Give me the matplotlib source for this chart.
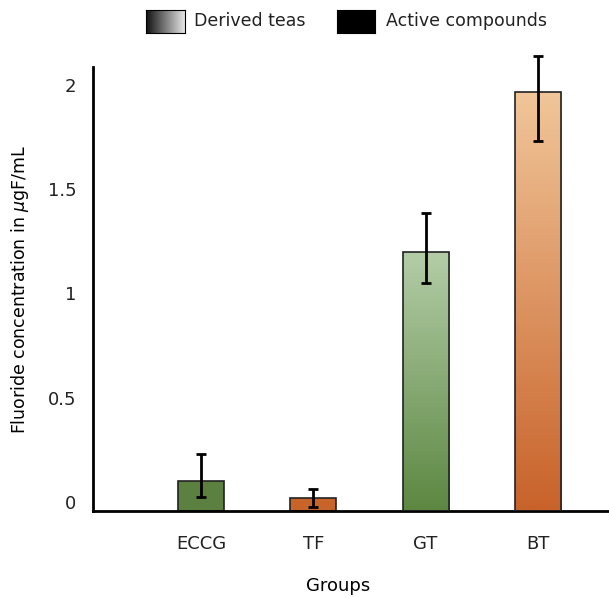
import numpy as np
import matplotlib
matplotlib.use("Agg")
import matplotlib.pyplot as plt
import matplotlib.transforms as mtransforms
from matplotlib.colors import LinearSegmentedColormap, to_rgb

# Data
groups = ["ECCG", "TF", "GT", "BT"]
values = [0.144, 0.062, 1.242, 2.009]
err_low = [0.077, 0.043, 0.149, 0.235]
err_high = [0.129, 0.043, 0.187, 0.172]
# None -> solid colour, otherwise (top, bottom) gradient
solid_colors = ["#5B8040", "#C8642A", None, None]
grad_colors = [None, None, ("#B4CDA8", "#5C8741"), ("#F1C699", "#C8622A")]
yticks = [0, 0.5, 1, 1.5, 2]
ytick_labels = ["0", "0.5", "1", "1.5", "2"]

plt.rcParams['font.family'] = ['DejaVu Sans']
plt.rcParams['font.size'] = 12.5
plt.rcParams['text.color'] = '#222222'

fig = plt.figure(figsize=(6.09, 5.98), dpi=100)
ax = fig.add_axes([93 / 609, 87 / 598, 516 / 609, 444 / 598])

x = np.arange(len(groups))
width = 0.41

for i, g in enumerate(groups):
    if solid_colors[i] is not None:
        ax.bar(x[i], values[i], width, color=solid_colors[i], edgecolor="#222222", linewidth=1.2, zorder=2)
    else:
        top, bottom = grad_colors[i]
        cmap = LinearSegmentedColormap.from_list("g%d" % i, [to_rgb(bottom), to_rgb(top)])
        bar = ax.bar(x[i], values[i], width, color="none", edgecolor="#222222", linewidth=1.2, zorder=3)[0]
        grad = np.linspace(0, 1, 256).reshape(-1, 1)
        im = ax.imshow(grad, cmap=cmap, origin="lower", aspect="auto",
                       extent=[x[i] - width / 2, x[i] + width / 2, 0, values[i]], zorder=2)
        im.set_clip_path(bar)

eb = ax.errorbar(x, values, yerr=[err_low, err_high], fmt="none", ecolor="black",
                 elinewidth=2, capsize=3.5, capthick=2, zorder=4)
for art in eb.lines[1] + eb.lines[2]:
    art.set_clip_on(False)

ax.set_xlim(-0.962, 3.633)
ax.set_ylim(0, 2.128)
ax.set_xticks(x)
ax.set_xticklabels(groups)
ax.set_yticks(yticks)
ax.set_yticklabels(ytick_labels)
ax.tick_params(length=0, labelsize=13, labelcolor="#222222")
ax.tick_params(axis="x", pad=17)
ax.tick_params(axis="y", pad=12)
# labels in the original sit a bit above their ticks
offset = mtransforms.ScaledTranslation(0, 9 / 100, fig.dpi_scale_trans)
for lab in ax.get_yticklabels():
    lab.set_transform(lab.get_transform() + offset)

for s in ["top", "right"]:
    ax.spines[s].set_visible(False)
ax.spines["left"].set_linewidth(2)
ax.spines["bottom"].set_linewidth(2)

ax.set_xlabel("Groups", fontsize=13)
ax.xaxis.set_label_coords((338 - 93) / 516, -0.148)
ax.set_ylabel("Fluoride concentration in $\\mu$gF/mL", fontsize=12.5)
ax.yaxis.set_label_coords(-(93 - 31) / 516, 0.5)

# legend drawn by hand: gradient swatch + black swatch
lg = fig.add_axes([146 / 609, 1 - 33 / 598, 39 / 609, 23 / 598])
lg.imshow(np.linspace(0, 1, 256).reshape(1, -1), cmap=LinearSegmentedColormap.from_list(
    "leg", ["#111111", "#E6E6E6"]), aspect="auto")
lg.set_xticks([])
lg.set_yticks([])
for s in lg.spines.values():
    s.set_linewidth(0.8)
fig.text(194 / 609, 1 - 21 / 598, "Derived teas", va="center", ha="left", fontsize=12.5)

lb = fig.add_axes([337 / 609, 1 - 33 / 598, 38 / 609, 23 / 598])
lb.set_facecolor("black")
lb.set_xticks([])
lb.set_yticks([])
fig.text(386 / 609, 1 - 21 / 598, "Active compounds", va="center", ha="left", fontsize=12.5)

fig.savefig("out.png", dpi=100)
